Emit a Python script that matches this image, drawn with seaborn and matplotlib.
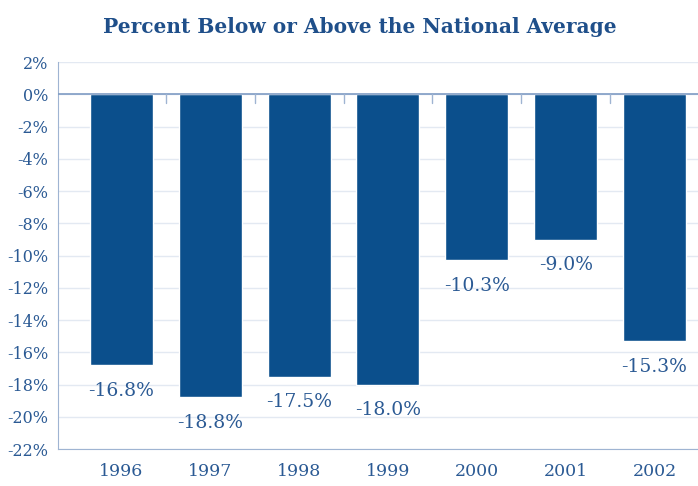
import matplotlib.pyplot as plt
import seaborn as sns
import pandas as pd

years = ["1996", "1997", "1998", "1999", "2000", "2001", "2002"]
pct = [-16.8, -18.8, -17.5, -18.0, -10.3, -9.0, -15.3]
yticks = list(range(2, -24, -2))

blue = "#0b4f8c"
text_blue = "#2b5a94"

sns.set_style("white")
plt.rcParams["font.family"] = ["DejaVu Serif"]

df = pd.DataFrame({"year": years, "pct": pct})

fig = plt.figure(figsize=(6.98, 4.86), dpi=100)
ax = fig.add_axes([0.083, 0.076, 0.917, 0.796])

sns.barplot(data=df, x="year", y="pct", color=blue, saturation=1, width=0.71, ax=ax)

# light gridlines
for t in yticks:
    ax.axhline(t, color="#e3e9f2", lw=1, zorder=0)
ax.axhline(0, color="#7f9cc4", lw=1.2, zorder=3)

ax.set_ylim(-22, 2)
ax.set_xlim(-0.715, 6.49)
ax.set_yticks(yticks)
ax.set_yticklabels([f"{t}%" for t in yticks], color=text_blue, fontsize=11.5)
ax.tick_params(axis="y", length=5, color="#9fb4d2", pad=2)
ax.tick_params(axis="x", length=0, pad=10, labelsize=12.5, labelcolor=text_blue)
ax.set_xlabel("")
ax.set_ylabel("")

# small ticks between bars on the zero line
for i in range(1, len(years)):
    ax.plot([i - 0.5, i - 0.5], [0, -0.5], color="#9fb4d2", lw=1, zorder=3)

for s in ["top", "right"]:
    ax.spines[s].set_visible(False)
ax.spines["bottom"].set_color("#9fb4d2")
ax.spines["left"].set_color("#9fb4d2")

for i, v in enumerate(pct):
    ax.text(i, v - 1.6, f"{v:.1f}%", ha="center", va="center", color=text_blue, fontsize=13.5)

fig.text(0.515, 0.945, "Percent Below or Above the National Average", ha="center",
         va="center", color="#1f4f8a", fontsize=14.5, fontweight="bold")

fig.savefig("out.png", dpi=100)
